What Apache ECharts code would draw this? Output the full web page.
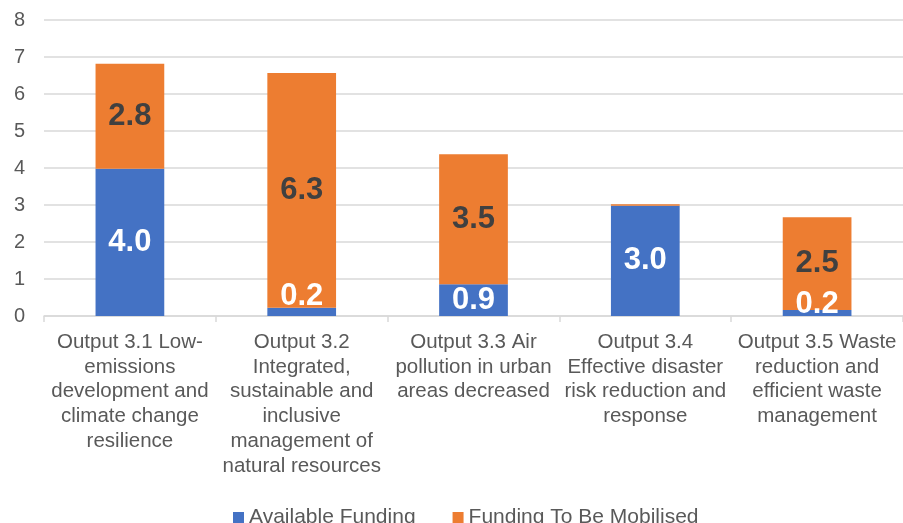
<!DOCTYPE html>
<html>
<head>
<meta charset="utf-8">
<script src="https://cdn.jsdelivr.net/npm/echarts@6/dist/echarts.min.js"></script>
<style>
  html, body { margin: 0; padding: 0; background: #fff; }
  #chart { width: 903px; height: 523px; }
</style>
</head>
<body>
<div id="chart"></div>
<script>
// categories (wrapped as in the source picture)
var categories = [
  'Output 3.1 Low-\nemissions\ndevelopment and\nclimate change\nresilience',
  'Output 3.2\nIntegrated,\nsustainable and\ninclusive\nmanagement of\nnatural resources',
  'Output 3.3 Air\npollution in urban\nareas decreased',
  'Output 3.4\nEffective disaster\nrisk reduction and\nresponse',
  'Output 3.5 Waste\nreduction and\nefficient waste\nmanagement'
]
var availableFunding = [3.98, 0.22, 0.86, 2.98, 0.16]
var toBeMobilised = [2.84, 6.35, 3.51, 0.04, 2.51]
var yTicks = [0, 1, 2, 3, 4, 5, 6, 7, 8]

var chart = echarts.init(document.getElementById('chart'))

var labelFont = 'Liberation Sans, Arial, sans-serif'

chart.setOption({
  backgroundColor: '#fff',
  animation: false,
  textStyle: { fontFamily: labelFont },
  grid: { left: 44, right: 0, top: 20, bottom: 207 },
  legend: {
    top: 502,
    left: 228,
    itemWidth: 11,
    itemHeight: 11,
    itemGap: 37,
    icon: 'rect',
    textStyle: { fontSize: 21, color: '#595959', fontFamily: labelFont },
    data: ['Available Funding', 'Funding To Be Mobilised']
  },
  xAxis: {
    type: 'category',
    data: categories,
    axisLine: { lineStyle: { color: '#d9d9d9', width: 1.5 } },
    axisTick: { show: true, length: 6, lineStyle: { color: '#d9d9d9', width: 1.5 } },
    axisLabel: {
      interval: 0,
      margin: 14,
      fontSize: 20.5,
      lineHeight: 24.7,
      color: '#595959',
      fontFamily: labelFont
    }
  },
  yAxis: {
    type: 'value',
    min: yTicks[0],
    max: yTicks[yTicks.length - 1],
    interval: 1,
    axisLine: { show: false },
    axisTick: { show: false },
    splitLine: { lineStyle: { color: '#d9d9d9', width: 1.5 } },
    axisLabel: { fontSize: 20, color: '#595959', margin: 19, fontFamily: labelFont }
  },
  series: [
    {
      name: 'Available Funding',
      type: 'bar',
      stack: 'total',
      barWidth: '40%',
      itemStyle: { color: '#4472C4' },
      label: {
        show: true,
        position: 'inside',
        color: '#fff',
        fontSize: 31,
        fontWeight: 'bold',
        fontFamily: labelFont,
        formatter: function (p) { return p.value.toFixed(1) }
      },
      data: availableFunding.map(function (v, i) {
        if (v < 0.5) {
          // tiny segments: label sits at the bar base, as in the original
          return { value: v, label: { position: 'insideBottom', distance: i === 1 ? 4 : -4 } }
        }
        return v
      })
    },
    {
      name: 'Funding To Be Mobilised',
      type: 'bar',
      stack: 'total',
      barWidth: '40%',
      itemStyle: { color: '#ED7D31' },
      label: {
        show: true,
        position: 'inside',
        color: '#404040',
        fontSize: 31,
        fontWeight: 'bold',
        fontFamily: labelFont,
        formatter: function (p) { return p.value.toFixed(1) }
      },
      data: toBeMobilised.map(function (v) {
        if (v < 0.1) {
          return { value: v, label: { show: false } }
        }
        return v
      })
    }
  ]
})
</script>
</body>
</html>
